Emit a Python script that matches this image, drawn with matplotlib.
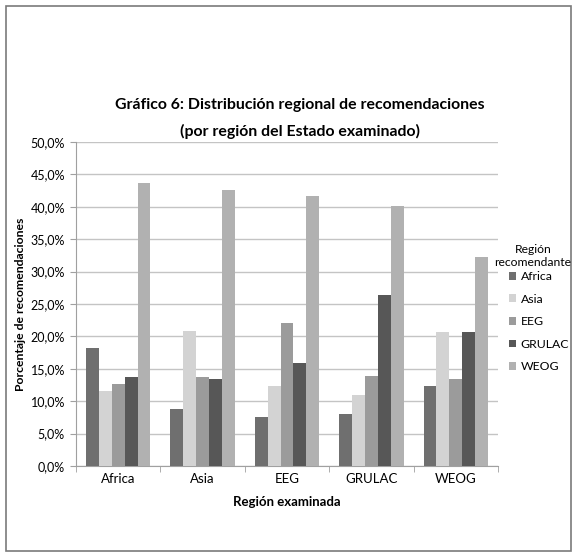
import matplotlib
matplotlib.use("Agg")
import matplotlib.pyplot as plt
import numpy as np
from matplotlib.patches import Rectangle

plt.rcParams['font.family'] = ['Lato', 'DejaVu Sans']

categories = ["Africa", "Asia", "EEG", "GRULAC", "WEOG"]
series_names = ["Africa", "Asia", "EEG", "GRULAC", "WEOG"]
africa = [18.2, 8.8, 7.5, 8.0, 12.4]
asia = [11.5, 20.9, 12.3, 11.0, 20.7]
eeg = [12.7, 13.8, 22.1, 13.9, 13.5]
grulac = [13.7, 13.4, 15.9, 26.4, 20.7]
weog = [43.6, 42.6, 41.6, 40.2, 32.3]
series = [africa, asia, eeg, grulac, weog]
colors = ["#6f6f6f", "#d3d3d3", "#9b9b9b", "#575757", "#b1b1b1"]
yticks = [0, 5, 10, 15, 20, 25, 30, 35, 40, 45, 50]

W, H = 577, 557
fig = plt.figure(figsize=(W/100, H/100), dpi=100)
fig.patches.append(Rectangle((6/W, 6/H), 565/W, 545/H, transform=fig.transFigure,
                             fill=False, edgecolor="#7a7a7a", linewidth=1.2))

ax = fig.add_axes([76/W, (H-466)/H, (498-76)/W, (466-142)/H])
n = len(series)
x = np.arange(len(categories))
bw = 0.153
for i, (vals, c, name) in enumerate(zip(series, colors, series_names)):
    ax.bar(x + (i - (n-1)/2)*bw, vals, bw, color=c, label=name, zorder=3)

ax.set_xlim(-0.5, len(categories)-0.5)
ax.set_ylim(0, 50)
ax.set_yticks(yticks)
ax.set_yticklabels([f"{t:.1f}%".replace(".", ",") for t in yticks], fontsize=9)
ax.set_xticks(x)
ax.set_xticklabels(categories, fontsize=9.5)
ax.set_xticks(np.arange(len(categories)+1)-0.5, minor=True)
ax.tick_params(axis='x', which='major', length=0, pad=5)
ax.tick_params(axis='x', which='minor', length=4, color="#a0a0a0")
ax.tick_params(axis='y', length=4, color="#a0a0a0", pad=4)
ax.grid(axis='y', color="#c4c4c4", linewidth=1, zorder=0)
for s in ['top', 'right']:
    ax.spines[s].set_visible(False)
ax.spines['left'].set_color("#a0a0a0")
ax.spines['bottom'].set_color("#a0a0a0")

ax.set_xlabel("Región examinada", fontsize=9.5, fontweight='bold', labelpad=8)
ax.set_ylabel("Porcentaje de recomendaciones", fontsize=8.8, fontweight='bold', labelpad=3)

fig.text(300/W, 1-105/H, "Gráfico 6: Distribución regional de recomendaciones",
         ha='center', va='center', fontsize=11.4, fontweight='bold')
fig.text(300/W, 1-131/H, "(por región del Estado examinado)",
         ha='center', va='center', fontsize=11.4, fontweight='bold')

fig.text(533/W, 1-256/H, "Región\nrecomendante", ha='center', va='center',
         fontsize=8.7, multialignment='center', linespacing=1.25)
leg = fig.legend(loc='upper left', bbox_to_anchor=(509/W, 1-271/H), frameon=False,
                 fontsize=8.8, handlelength=0.6, handleheight=0.6, handletextpad=0.35,
                 labelspacing=0.95, borderpad=0, borderaxespad=0)

fig.savefig("out.png", dpi=100)
